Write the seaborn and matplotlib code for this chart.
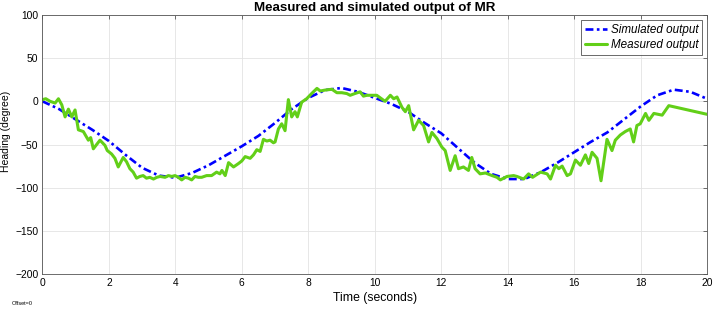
import numpy as np
import pandas as pd
import seaborn as sns
import matplotlib.pyplot as plt

# simulated output (read every 0.5 s)
sim_time = [0.0, 0.5, 1.0, 1.5, 2.0, 2.5, 3.0, 3.5, 4.0, 4.5, 5.0, 5.5, 6.0, 6.5,
            7.0, 7.5, 8.0, 8.5, 9.0, 9.5, 10.0, 10.5, 11.0, 11.5, 12.0, 12.5, 13.0,
            13.5, 14.0, 14.5, 15.0, 15.5, 16.0, 16.5, 17.0, 17.5, 18.0, 18.5, 19.0,
            19.5, 20.0]
sim_heading = [0, -9, -21, -33, -46, -62, -77, -86, -88.5, -83, -74, -63, -52, -40,
               -25, -9, 4, 13, 15.5, 11, 4, -3, -12, -25, -37, -54, -71,
               -84, -90, -90, -82, -71, -59, -47, -36, -21, -6, 7, 13.5,
               11, 3]

# measured output
meas_time = [0.00, 0.10, 0.23, 0.38, 0.48, 0.58, 0.68, 0.78, 0.88, 0.98, 1.08, 1.23,
             1.38, 1.45, 1.53, 1.63, 1.73, 1.88, 1.95, 2.08, 2.18, 2.28, 2.43, 2.53,
             2.63, 2.73, 2.83, 2.93, 3.03, 3.13, 3.23, 3.34, 3.44, 3.54, 3.69, 3.79,
             3.89, 3.99, 4.09, 4.19, 4.29, 4.39, 4.49, 4.59, 4.69, 4.79, 4.94, 5.09,
             5.24, 5.34, 5.40, 5.50, 5.60, 5.75, 5.90, 6.00, 6.10, 6.25, 6.35, 6.45,
             6.55, 6.65, 6.75, 6.85, 6.95, 7.00, 7.10, 7.20, 7.30, 7.40, 7.50, 7.60,
             7.67, 7.80, 7.95, 8.10, 8.26, 8.36, 8.50, 8.71, 8.86, 9.01, 9.16, 9.26,
             9.40, 9.56, 9.66, 9.76, 10.06, 10.20, 10.31, 10.47, 10.57, 10.67, 10.82,
             10.92, 11.02, 11.17, 11.32, 11.47, 11.62, 11.72, 11.87, 12.02, 12.12,
             12.27, 12.42, 12.52, 12.67, 12.82, 12.92, 13.02, 13.17, 13.33, 13.53,
             13.68, 13.78, 13.98, 14.18, 14.28, 14.48, 14.63, 14.75, 14.99, 15.19,
             15.29, 15.44, 15.54, 15.64, 15.79, 15.89, 16.04, 16.19, 16.34, 16.44,
             16.54, 16.69, 16.81, 16.99, 17.14, 17.24, 17.39, 17.54, 17.69, 17.79,
             17.89, 17.99, 18.15, 18.25, 18.40, 18.65, 18.85, 20.00]
meas_heading = [2, 3, 0, -2, 3, -4, -18, -9, -18, -10, -33, -35,
                -45, -42, -55, -50, -45, -51, -57, -61, -66, -76, -65, -70,
                -78, -82, -89, -87, -86, -89, -88, -90, -88, -87, -88, -86,
                -87, -86, -88, -91, -88, -89, -91, -87, -88, -88, -86, -86,
                -82, -84, -80, -86, -71, -76, -72, -69, -64, -66, -62, -56,
                -58, -44, -46, -45, -48, -47, -32, -26, -34, 2, -18, -12,
                -18, -1, 3, 9, 15, 12, 13, 14, 10, 10, 9, 7,
                9, 11, 6, 7, 7, 3, 0, 7, 3, 5, -7,
                -12, -5, -33, -22, -28, -47, -36, -43, -53, -57,
                -80, -63, -78, -76, -80, -65, -78, -84, -83, -86,
                -88, -91, -87, -86, -87, -90, -84, -88, -82, -84,
                -90, -74, -78, -75, -86, -84, -68, -74, -62, -72,
                -59, -66, -92, -44, -57, -45, -39, -35, -32, -47,
                -28, -26, -14, -22, -14, -16, -5, -15]

sim = pd.DataFrame({"t": sim_time, "h": sim_heading})
meas = pd.DataFrame({"t": meas_time, "h": meas_heading})

sns.set_style("white")
plt.rcParams['font.family'] = ['Liberation Sans', 'DejaVu Sans']
plt.rcParams['text.color'] = 'black'

fig = plt.figure(figsize=(7.13, 3.10), dpi=100)
ax = fig.add_axes([0.0596, 0.1161, 0.932, 0.8355])

sns.lineplot(data=sim, x="t", y="h", ax=ax, color="#0000ff", linewidth=1.9,
             linestyle=(0, (3.0, 1.3, 1.0, 1.3)), label="Simulated output")
sns.lineplot(data=meas, x="t", y="h", ax=ax, color="#62cf18", linewidth=2.2,
             label="Measured output")

ax.set_xlim(0, 20)
ax.set_ylim(-200, 100)
ax.set_xticks(np.arange(0, 21, 2))
ax.set_yticks(np.arange(-200, 101, 50))
ax.grid(True, color="#e3e3e3", linewidth=0.6)
ax.tick_params(direction="in", length=3, width=0.6, labelsize=7.4,
               top=True, right=True, colors="#555555", labelcolor="black", pad=3)
for s in ax.spines.values():
    s.set_color("#555555")
    s.set_linewidth(0.6)

ax.set_title("Measured and simulated output of MR", fontsize=9.6,
             fontweight="bold", color="black", pad=3)
ax.set_xlabel("Time (seconds)", fontsize=8.8, color="black", labelpad=3)
ax.set_ylabel("Heading (degree)", fontsize=7.5, color="black")
ax.yaxis.set_label_coords(-0.047, 0.549)

leg = ax.legend(loc="upper right", frameon=True, fancybox=False,
                borderpad=0.35, handlelength=1.9, handletextpad=0.3,
                labelspacing=0.3, borderaxespad=0.4,
                prop={'style': 'italic', 'size': 8.4})
leg.get_frame().set_edgecolor("#262626")
leg.get_frame().set_linewidth(0.6)

fig.text(0.017, 0.016, "Offset=0", fontsize=4.0)

fig.savefig("out.png", dpi=100)
